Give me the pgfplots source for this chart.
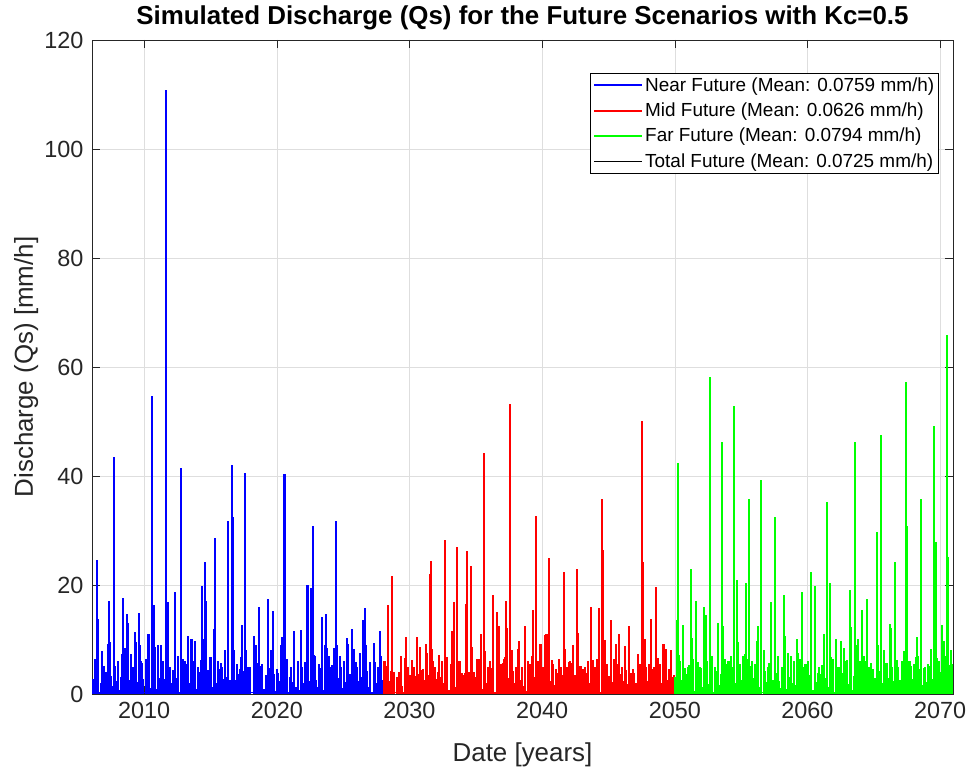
\documentclass[border=0pt]{standalone}
\usepackage{pgfplots}
\pgfplotsset{compat=1.18}
\usepackage{pgfplotstable}
\usepackage{fontspec}
\setmainfont{Liberation Sans}

\definecolor{axgray}{rgb}{0.15,0.15,0.15}
\definecolor{gridgray}{rgb}{0.87,0.87,0.87}

% Peak discharges of the storm events (year, mm/h)
\pgfplotstableread{
x y
2006.42 24.6
2006.50 13.8
2006.82 7.9
2006.95 5.2
2007.10 4.0
2007.35 17.1
2007.40 9.5
2007.70 43.5
2007.74 19.3
2008.05 6.0
2008.38 17.6
2008.55 8.5
2008.68 14.6
2008.80 13.1
2009.00 7.3
2009.20 5.0
2009.38 9.5
2009.60 14.8
2009.70 9.0
2009.81 5.7
2010.15 6.5
2010.33 11.1
2010.60 54.6
2010.71 16.3
2011.05 9.0
2011.28 9.0
2011.45 6.0
2011.64 110.8
2011.76 16.9
2011.95 5.0
2012.18 4.4
2012.36 18.7
2012.55 7.0
2012.79 41.5
2012.90 6.5
2013.10 6.0
2013.34 10.6
2013.57 10.1
2013.75 6.0
2014.05 5.0
2014.39 19.9
2014.50 10.0
2014.62 24.3
2014.69 17.0
2015.00 4.5
2015.37 28.6
2015.55 6.0
2015.90 5.0
2016.10 8.0
2016.32 31.7
2016.65 42.0
2016.70 32.5
2017.00 5.5
2017.20 4.5
2017.40 12.6
2017.57 40.5
2017.68 8.0
2018.00 5.0
2018.25 6.5
2018.45 9.0
2018.63 16.0
2018.90 5.5
2019.35 17.4
2019.55 8.0
2019.70 15.3
2020.00 4.5
2020.36 10.5
2020.58 40.3
2020.63 33.6
2020.80 6.5
2021.10 5.0
2021.31 11.6
2021.60 6.0
2021.90 5.0
2022.10 5.8
2022.31 20.0
2022.60 19.4
2022.70 30.9
2022.90 7.0
2023.15 5.5
2023.42 14.2
2023.60 9.0
2023.72 14.6
2023.90 7.0
2024.10 5.0
2024.30 8.5
2024.47 31.7
2024.56 8.9
2024.80 5.0
2025.05 6.0
2025.34 9.2
2025.64 12.0
2025.82 8.2
2026.05 5.0
2026.25 6.5
2026.47 13.5
2026.67 15.7
2026.75 9.0
2027.05 5.8
2027.40 5.8
2027.60 5.0
2027.78 11.6
2027.88 7.0
}\nearpeaks

\pgfplotstableread{
x y
2028.12 6.0
2028.35 16.3
2028.68 21.6
2028.85 4.1
2029.10 3.2
2029.36 7.0
2029.68 6.6
2030.00 3.5
2030.30 5.0
2030.56 10.4
2030.76 8.6
2031.05 4.5
2031.28 7.6
2031.54 22.1
2031.63 24.4
2031.73 8.2
2031.95 5.0
2032.18 4.1
2032.45 6.0
2032.66 28.3
2032.86 6.8
2033.15 5.5
2033.39 16.9
2033.61 26.9
2033.80 6.0
2033.99 3.9
2034.24 16.6
2034.36 26.2
2034.62 23.5
2034.87 4.1
2035.10 6.5
2035.37 11.0
2035.64 44.2
2035.90 5.0
2036.10 6.0
2036.27 18.2
2036.62 15.1
2036.90 5.5
2037.10 6.5
2037.25 17.1
2037.33 12.2
2037.57 53.2
2037.75 8.0
2038.00 5.0
2038.20 8.2
2038.45 5.0
2038.70 12.4
2038.95 6.0
2039.10 5.5
2039.28 15.5
2039.53 32.7
2039.70 6.0
2039.88 9.2
2040.10 5.0
2040.33 11.0
2040.53 24.9
2040.80 5.5
2041.05 4.5
2041.26 6.5
2041.45 5.0
2041.63 22.4
2041.90 5.0
2042.10 6.0
2042.33 8.9
2042.63 23.0
2042.89 5.2
2043.10 4.5
2043.26 5.0
2043.45 6.0
2043.69 16.0
2043.95 5.0
2044.15 6.5
2044.27 15.8
2044.51 35.7
2044.59 26.4
2044.85 5.5
2045.19 13.6
2045.40 6.5
2045.59 9.2
2045.82 11.0
2046.05 5.0
2046.27 7.6
2046.57 12.4
2046.85 4.5
2047.20 4.4
2047.35 5.5
2047.52 50.0
2047.60 24.2
2047.85 5.0
2048.05 5.5
2048.23 13.8
2048.40 5.0
2048.60 19.7
2048.85 5.5
2049.15 9.2
2049.33 8.2
2049.55 4.5
2049.78 3.2
2049.93 3.5
}\midpeaks

\pgfplotstableread{
x y
2050.15 13.6
2050.23 42.3
2050.42 6.0
2050.60 12.7
2050.78 4.7
2051.00 5.0
2051.24 22.9
2051.40 6.5
2051.61 17.1
2051.90 5.0
2052.21 15.9
2052.33 14.5
2052.63 58.1
2052.80 7.0
2053.05 5.0
2053.24 13.0
2053.54 46.3
2053.61 12.4
2053.85 5.5
2054.05 6.0
2054.24 6.9
2054.47 52.8
2054.67 20.9
2054.90 5.5
2055.15 7.0
2055.37 20.4
2055.60 35.8
2055.85 6.0
2056.05 5.5
2056.20 9.7
2056.52 39.3
2056.70 8.0
2057.00 5.0
2057.22 16.8
2057.55 32.4
2057.75 7.0
2058.05 5.0
2058.25 18.2
2058.50 7.6
2058.75 7.0
2059.00 6.0
2059.23 10.1
2059.40 6.5
2059.58 18.7
2059.85 5.5
2060.05 6.0
2060.26 22.3
2060.58 19.8
2060.85 5.0
2061.13 5.3
2061.46 35.3
2061.73 20.4
2061.95 6.5
2062.18 10.0
2062.40 5.0
2062.56 9.7
2062.80 6.0
2063.00 5.5
2063.19 19.1
2063.31 12.3
2063.56 46.2
2063.75 9.0
2063.95 6.0
2064.14 15.4
2064.30 6.0
2064.49 17.5
2064.75 5.0
2064.95 4.5
2065.22 29.7
2065.52 47.6
2065.75 8.0
2066.00 5.5
2066.20 12.8
2066.40 5.0
2066.57 24.2
2066.85 5.0
2067.10 6.0
2067.40 57.3
2067.50 30.9
2067.75 6.0
2068.00 5.5
2068.20 6.8
2068.35 7.0
2068.58 35.8
2068.85 5.0
2069.10 5.5
2069.30 6.0
2069.53 49.2
2069.66 27.9
2069.90 6.0
2070.13 12.7
2070.35 7.0
2070.53 65.8
2070.58 25.2
2070.80 8.0
2070.92 5.5
}\farpeaks

% Baseflow and small events, one value every 0.15 years
\pgfplotstableread[row sep=\\, header=false]{
2.8\\ 1.2\\ 3.5\\ 0.4\\ 2.1\\ 4.6\\ 1.8\\ 0.0\\ 2.9\\ 3.3\\
1.5\\ 5.2\\ 2.4\\ 0.8\\ 3.1\\ 2.0\\ 0.3\\ 4.1\\ 2.6\\ 1.9\\
3.8\\ 0.6\\ 2.2\\ 5.8\\ 1.4\\ 2.7\\ 0.0\\ 3.4\\ 2.3\\ 1.1\\
4.4\\ 2.5\\ 0.9\\ 3.0\\ 6.2\\ 1.7\\ 2.8\\ 0.5\\ 3.6\\ 2.0\\
1.3\\ 4.8\\ 2.9\\ 0.2\\ 2.4\\ 3.7\\ 1.6\\ 5.5\\ 2.1\\ 0.7\\
3.2\\ 2.6\\ 1.0\\ 4.0\\ 2.3\\ 0.0\\ 3.9\\ 1.8\\ 2.7\\ 6.8\\
1.2\\ 3.3\\ 2.0\\ 0.6\\ 4.5\\ 2.8\\ 1.5\\ 3.1\\ 0.4\\ 2.5\\
5.0\\ 1.9\\ 2.6\\ 3.6\\ 0.8\\ 2.2\\ 4.3\\ 1.1\\ 3.0\\ 2.4\\
0.0\\ 3.7\\ 2.1\\ 5.6\\ 1.6\\ 2.9\\ 0.9\\ 3.4\\ 2.0\\ 4.7\\
1.4\\ 2.6\\ 0.5\\ 3.8\\ 2.3\\ 1.7\\ 6.0\\ 2.8\\ 0.3\\ 3.1\\
2.2\\ 4.2\\ 1.3\\ 2.7\\ 0.7\\ 3.5\\ 2.0\\ 5.1\\ 1.8\\ 2.4\\
0.0\\ 3.3\\ 2.6\\ 1.2\\ 4.6\\ 2.1\\ 0.8\\ 3.9\\ 2.5\\ 1.6\\
5.4\\ 2.3\\ 0.4\\ 3.0\\ 2.8\\ 1.1\\ 4.1\\ 2.2\\ 0.6\\ 3.6\\
2.9\\ 1.5\\ 5.9\\ 2.4\\ 0.9\\ 3.2\\ 2.0\\ 4.4\\ 1.3\\ 2.7\\
0.2\\ 3.8\\ 2.1\\ 1.7\\ 4.9\\ 2.6\\
}\nearbase

\pgfplotstableread[row sep=\\, header=false]{
1.6\\ 3.0\\ 0.5\\ 2.4\\ 4.2\\ 1.1\\ 0.0\\ 2.7\\ 3.6\\ 1.4\\
0.3\\ 2.2\\ 5.0\\ 1.8\\ 2.9\\ 0.7\\ 3.3\\ 2.0\\ 1.2\\ 4.4\\
2.6\\ 0.0\\ 1.9\\ 3.5\\ 2.3\\ 6.1\\ 1.0\\ 2.8\\ 0.4\\ 3.2\\
2.1\\ 4.6\\ 1.5\\ 0.8\\ 3.9\\ 2.5\\ 1.3\\ 5.3\\ 2.0\\ 0.2\\
3.4\\ 2.7\\ 1.6\\ 4.0\\ 0.6\\ 2.3\\ 3.1\\ 1.8\\ 6.5\\ 2.4\\
0.9\\ 3.6\\ 2.0\\ 1.1\\ 4.8\\ 2.9\\ 0.3\\ 3.3\\ 2.2\\ 1.5\\
5.7\\ 2.6\\ 0.0\\ 3.0\\ 1.7\\ 4.3\\ 2.1\\ 0.8\\ 3.8\\ 2.5\\
1.4\\ 2.9\\ 0.5\\ 4.5\\ 2.3\\ 1.9\\ 3.2\\ 0.7\\ 5.2\\ 2.0\\
2.8\\ 1.2\\ 3.7\\ 0.0\\ 2.4\\ 4.9\\ 1.6\\ 3.1\\ 2.2\\ 0.9\\
3.5\\ 2.6\\ 1.3\\ 5.8\\ 2.0\\ 0.4\\ 3.4\\ 2.7\\ 1.8\\ 4.1\\
0.6\\ 2.5\\ 3.9\\ 1.5\\ 2.1\\ 6.3\\ 1.0\\ 3.0\\ 2.4\\ 0.2\\
4.7\\ 2.8\\ 1.7\\ 3.3\\ 0.8\\ 2.2\\ 5.1\\ 1.4\\ 2.9\\ 3.6\\
0.0\\ 2.3\\ 4.4\\ 1.9\\ 2.6\\ 0.5\\ 3.8\\ 2.1\\ 1.2\\ 5.5\\
2.7\\ 0.9\\ 3.2\\ 2.4\\ 1.6\\ 4.6\\ 0.3\\ 2.8\\ 3.5\\ 1.1\\
2.0\\ 4.0\\ 0.7\\ 2.5\\ 1.8\\ 3.0\\
}\midbase

\pgfplotstableread[row sep=\\, header=false]{
3.2\\ 1.8\\ 4.5\\ 2.6\\ 0.9\\ 3.7\\ 2.2\\ 5.4\\ 1.5\\ 2.9\\
0.6\\ 3.4\\ 2.1\\ 4.8\\ 1.2\\ 2.7\\ 6.0\\ 1.9\\ 3.1\\ 0.4\\
2.5\\ 4.2\\ 1.6\\ 3.6\\ 2.3\\ 0.8\\ 5.1\\ 2.8\\ 1.4\\ 3.9\\
2.0\\ 0.3\\ 4.4\\ 2.6\\ 1.7\\ 3.3\\ 6.4\\ 2.1\\ 0.7\\ 3.0\\
2.4\\ 4.7\\ 1.3\\ 2.9\\ 0.0\\ 3.5\\ 2.2\\ 5.6\\ 1.8\\ 2.6\\
0.5\\ 3.8\\ 2.3\\ 1.1\\ 4.3\\ 2.7\\ 0.9\\ 3.2\\ 6.7\\ 2.0\\
1.6\\ 3.6\\ 2.5\\ 0.4\\ 4.9\\ 2.1\\ 1.4\\ 3.4\\ 2.8\\ 0.8\\
5.3\\ 2.2\\ 1.7\\ 3.7\\ 0.6\\ 2.9\\ 4.1\\ 1.2\\ 2.4\\ 3.1\\
0.2\\ 4.6\\ 2.6\\ 1.5\\ 3.9\\ 2.0\\ 6.2\\ 1.9\\ 2.7\\ 0.7\\
3.3\\ 2.4\\ 4.4\\ 1.0\\ 2.8\\ 3.6\\ 0.3\\ 5.0\\ 2.2\\ 1.6\\
3.0\\ 2.5\\ 0.9\\ 4.2\\ 2.1\\ 1.3\\ 5.7\\ 2.9\\ 0.5\\ 3.5\\
2.3\\ 4.8\\ 1.8\\ 2.6\\ 0.0\\ 3.4\\ 2.0\\ 6.0\\ 1.4\\ 2.7\\
3.8\\ 0.8\\ 2.4\\ 4.5\\ 1.7\\ 3.1\\ 2.2\\ 0.6\\ 5.2\\ 2.8\\
1.1\\ 3.6\\ 2.5\\ 4.0\\ 1.9\\ 3.3\\ 0.4\\ 2.9\\ 4.7\\ 2.1\\
}\farbase

% Minor events, one every 0.5 years
\pgfplotstableread[row sep=\\, header=false]{
6.5\\ 3.8\\ 9.2\\ 5.1\\ 7.4\\ 4.2\\ 11.3\\ 6.0\\ 3.5\\ 8.7\\
5.4\\ 10.1\\ 4.6\\ 7.0\\ 3.9\\ 9.8\\ 6.2\\ 4.4\\ 12.0\\ 5.7\\
3.6\\ 8.1\\ 6.8\\ 4.9\\ 10.6\\ 5.2\\ 7.7\\ 3.7\\ 9.0\\ 6.3\\
4.1\\ 11.8\\ 5.5\\ 7.2\\ 4.8\\ 8.4\\ 3.8\\ 6.9\\ 10.2\\ 5.0\\
7.5\\ 4.3\\ 9.4\\ 6.1\\
}\nearminor

\pgfplotstableread[row sep=\\, header=false]{
5.2\\ 8.0\\ 4.1\\ 10.4\\ 6.3\\ 3.7\\ 9.1\\ 5.8\\ 7.2\\ 4.5\\
11.6\\ 6.0\\ 3.9\\ 8.6\\ 5.3\\ 7.9\\ 4.4\\ 12.5\\ 6.7\\ 3.6\\
9.7\\ 5.1\\ 7.0\\ 4.8\\ 10.9\\ 6.2\\ 3.8\\ 8.3\\ 5.6\\ 11.2\\
4.0\\ 7.6\\ 6.4\\ 9.9\\ 4.7\\ 5.5\\ 8.8\\ 3.9\\ 7.3\\ 10.0\\
5.0\\ 6.6\\ 4.2\\ 8.1\\
}\midminor

\pgfplotstableread[row sep=\\, header=false]{
7.1\\ 4.6\\ 10.3\\ 5.9\\ 8.2\\ 3.8\\ 11.5\\ 6.4\\ 4.9\\ 9.6\\
7.3\\ 5.2\\ 12.4\\ 4.3\\ 8.8\\ 6.1\\ 10.7\\ 4.7\\ 7.6\\ 5.5\\
9.3\\ 3.9\\ 11.0\\ 6.8\\ 5.0\\ 8.5\\ 4.4\\ 10.1\\ 7.0\\ 5.7\\
9.0\\ 4.2\\ 12.2\\ 6.3\\ 7.9\\ 5.1\\ 10.5\\ 4.8\\ 8.3\\ 6.6\\
9.7\\ 5.3\\
}\farminor

\begin{document}
\begin{tikzpicture}
\useasboundingbox (0,0) rectangle (969bp,770bp);
\begin{axis}[
  at={(92bp,76bp)}, anchor=south west,
  scale only axis, width=861bp, height=654bp,
  xmin=2006.07, xmax=2070.97,
  ymin=0, ymax=120,
  xtick={2010,2020,...,2070},
  ytick={0,20,...,120},
  /pgf/number format/1000 sep={},
  /pgf/number format/assume math mode=true,
  tick align=inside,
  major tick length=8bp,
  tick style={axgray, line width=0.6bp},
  axis line style={axgray, line width=0.6bp},
  grid=major,
  major grid style={gridgray, line width=0.6bp},
  tick label style={font=\fontsize{23.5}{26}\selectfont, text=axgray},
  xticklabel style={yshift=-5bp},
  yticklabel style={xshift=-5bp},
  xlabel={Date [years]},
  ylabel={Discharge (Qs) [mm/h]},
  every axis x label/.style={at={([yshift=-67bp]rel axis cs:0.5,0)}, anchor=base,
    font=\fontsize{26}{30}\selectfont, text=axgray},
  every axis y label/.style={at={([xshift=-59bp]rel axis cs:0,0.5)}, rotate=90, anchor=base,
    font=\fontsize{26}{30}\selectfont, text=axgray},
  title={\bfseries Simulated Discharge (Qs) for the Future Scenarios with Kc=0.5},
  title style={font=\fontsize{26}{29}\selectfont, at={(rel axis cs:0.5,1)}, anchor=base, yshift=10bp},
  legend image code/.code={\draw[#1] (0bp,0bp) -- (48bp,0bp);},
  legend style={font=\fontsize{19}{22}\selectfont, draw=black, line width=0.6bp,
    at={(0.9837,0.9495)}, anchor=north east, inner sep=2.5bp, row sep=6bp},
  legend cell align=left,
  clip=true,
]
\addlegendimage{blue, line width=2bp}
\addlegendentry{Near Future (Mean: 0.0759 mm/h)}
\addlegendimage{red, line width=2bp}
\addlegendentry{Mid Future (Mean: 0.0626 mm/h)}
\addlegendimage{green, line width=2bp}
\addlegendentry{Far Future (Mean: 0.0794 mm/h)}
\addlegendimage{black, line width=0.8bp}
\addlegendentry{Total Future (Mean: 0.0725 mm/h)}

% near future 2006-2028
\addplot[blue, line width=1.5bp, forget plot] coordinates {(2006.07,0.25) (2027.98,0.25)};
\addplot[blue, ycomb, line width=2.2bp, forget plot]
  table[x expr={2006.15+0.15*\coordindex}, y index=0] {\nearbase};
\addplot[blue, ycomb, line width=2bp, forget plot]
  table[x expr={2006.30+0.5*\coordindex}, y index=0] {\nearminor};
\addplot[blue, ycomb, line width=2.1bp, forget plot] table[x=x, y=y] {\nearpeaks};

% mid future 2028-2050
\addplot[red, line width=1.5bp, forget plot] coordinates {(2027.98,0.25) (2049.98,0.25)};
\addplot[red, ycomb, line width=2.2bp, forget plot]
  table[x expr={2028.05+0.15*\coordindex}, y index=0] {\midbase};
\addplot[red, ycomb, line width=2bp, forget plot]
  table[x expr={2028.22+0.5*\coordindex}, y index=0] {\midminor};
\addplot[red, ycomb, line width=2.1bp, forget plot] table[x=x, y=y] {\midpeaks};

% far future 2050-2071
\addplot[green, line width=1.5bp, forget plot] coordinates {(2049.98,0.25) (2070.97,0.25)};
\addplot[green, ycomb, line width=2.2bp, forget plot]
  table[x expr={2050.05+0.15*\coordindex}, y index=0] {\farbase};
\addplot[green, ycomb, line width=2bp, forget plot]
  table[x expr={2050.28+0.5*\coordindex}, y index=0] {\farminor};
\addplot[green, ycomb, line width=2.1bp, forget plot] table[x=x, y=y] {\farpeaks};
\end{axis}
\end{tikzpicture}
\end{document}
